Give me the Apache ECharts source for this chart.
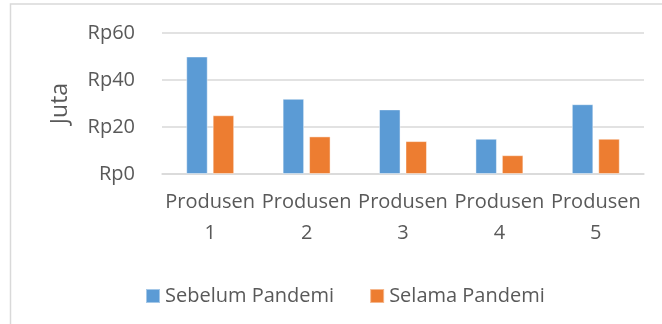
<!DOCTYPE html>
<html>
<head>
<meta charset="utf-8">
<script src="https://cdn.jsdelivr.net/npm/echarts@6/dist/echarts.min.js"></script>
<style>
html,body{margin:0;padding:0;background:#fff;}
#chart{width:662px;height:324px;}
</style>
</head>
<body>
<div id="chart"></div>
<script>
const categories = ['Produsen\n1', 'Produsen\n2', 'Produsen\n3', 'Produsen\n4', 'Produsen\n5'];
const sebelumPandemi = [50, 32, 27.5, 15, 29.7];
const selamaPandemi = [25, 16, 14, 8, 15];
const seriesNames = ['Sebelum Pandemi', 'Selama Pandemi'];
const yAxisName = 'Juta';

const FONT = '"Open Sans", sans-serif';
const GRAY = '#595959';

const chart = echarts.init(document.getElementById('chart'), null, {renderer: 'canvas'});
chart.setOption({
  backgroundColor: '#ffffff',
  animation: false,
  textStyle: {fontFamily: FONT},
  graphic: [{
    type: 'rect',
    shape: {x: 10.5, y: 4, width: 800, height: 500},
    style: {fill: 'none', stroke: '#d9d9d9', lineWidth: 1.5},
    silent: true,
    z: -10
  }],
  grid: {left: 162, right: 18, top: 33, bottom: 150, containLabel: false},
  legend: {
    data: seriesNames,
    left: 140,
    top: 281,
    icon: 'rect',
    itemWidth: 14,
    itemHeight: 14,
    itemGap: 35,
    textStyle: {fontFamily: FONT, fontSize: 20, color: GRAY, padding: [0, 0, 0, 0]}
  },
  xAxis: {
    type: 'category',
    data: categories,
    axisTick: {show: false},
    axisLine: {show: true, lineStyle: {color: '#d9d9d9', width: 1.5}},
    axisLabel: {
      fontFamily: FONT, fontSize: 20, color: GRAY,
      lineHeight: 31, margin: 13, interval: 0
    }
  },
  yAxis: {
    type: 'value',
    min: 0, max: 60, interval: 20,
    name: yAxisName,
    nameLocation: 'middle',
    nameRotate: 90,
    nameGap: 90,
    nameTextStyle: {fontFamily: FONT, fontSize: 23, color: GRAY},
    axisLine: {show: false},
    axisTick: {show: false},
    splitLine: {lineStyle: {color: '#d9d9d9', width: 1.5}},
    axisLabel: {
      formatter: 'Rp{value}',
      fontFamily: FONT, fontSize: 20, color: GRAY, margin: 27
    }
  },
  series: [
    {
      name: seriesNames[0], type: 'bar', data: sebelumPandemi,
      barWidth: 21.5, barGap: '23%',
      itemStyle: {color: '#5B9BD5', borderColor: 'rgba(255,255,255,0.45)', borderWidth: 1}
    },
    {
      name: seriesNames[1], type: 'bar', data: selamaPandemi,
      barWidth: 21.5, barGap: '23%',
      itemStyle: {color: '#ED7D31', borderColor: 'rgba(255,255,255,0.45)', borderWidth: 1}
    }
  ]
});
</script>
</body>
</html>
